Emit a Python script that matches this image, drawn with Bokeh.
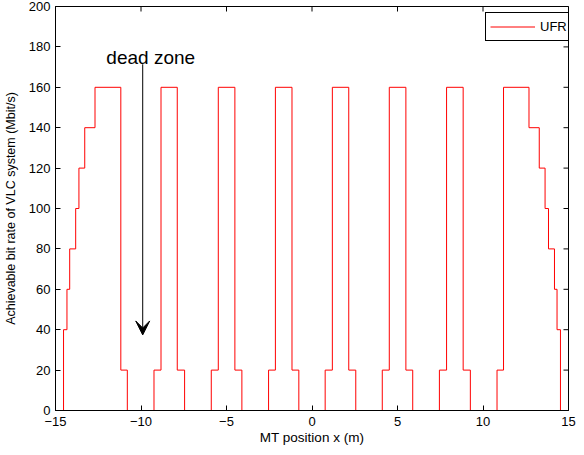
import math
from bokeh.plotting import figure
from bokeh.models import Range1d, Arrow, VeeHead, Legend, LegendItem, FixedTicker, ColumnDataSource
from bokeh.core.properties import value
from bokeh.embed import file_html
from bokeh.resources import INLINE

# ---- data ----
x_edges = [-15, -14.53, -14.33, -14.17, -13.82, -13.63, -13.29, -12.69, -11.18, -10.80,
           -9.24, -8.83, -7.88, -7.45, -5.89, -5.48, -4.51, -4.10, -2.54, -2.14,
           -1.17, -0.77, 0.77, 1.19, 2.15, 2.56, 4.11, 4.52, 5.49, 5.89,
           7.45, 7.87, 8.84, 9.26, 10.82, 11.20, 12.69, 13.29, 13.63, 13.83,
           14.18, 14.33, 14.53, 15]
rate = [0, 40, 60, 80, 100, 120, 140, 160, 20, 0,
        20, 160, 20, 0, 20, 160, 20, 0, 20, 160,
        20, 0, 20, 160, 20, 0, 20, 160, 20, 0,
        20, 160, 20, 0, 20, 160, 140, 120, 100, 80,
        60, 40, 0, 0]
series_name = "UFR"
x_ticks = [-15, -10, -5, 0, 5, 10, 15]
x_tick_labels = ["\u221215", "\u221210", "\u22125", "0", "5", "10", "15"]
y_ticks = [0, 20, 40, 60, 80, 100, 120, 140, 160, 180, 200]
x_min, x_max = -15, 15
y_min, y_max = 0, 200
x_label = "MT position x (m)"
y_label = "Achievable bit rate of VLC system (Mbit/s)"
note_text = ["dead zone"]
note_x = [-9.43]
note_y = [175]
arrow_x = -9.9
arrow_y_start = 171.4
arrow_y_end = 37.4

FONT = "Liberation Sans"

p = figure(width=576, height=447, output_backend="svg", toolbar_location=None,
           x_range=Range1d(x_min, x_max), y_range=Range1d(y_min, y_max),
           min_border_left=48, min_border_right=8, min_border_top=6, min_border_bottom=36)
p.xgrid.visible = False
p.ygrid.visible = False
p.outline_line_color = "black"
p.outline_line_alpha = 1.0
p.background_fill_color = "white"
p.border_fill_color = "white"

r = p.step(x_edges, rate, mode="after", line_color="#ff0000", line_width=1, line_join="miter")

# ticks on the top and right edges of the box (MATLAB style), clipped to frame
p.scatter(x=x_ticks, y=[y_max] * len(x_ticks), marker="dash", angle=math.pi / 2,
          size=10, line_color="black", line_width=1)
p.scatter(x=[x_max] * len(y_ticks), y=y_ticks, marker="dash",
          size=10, line_color="black", line_width=1)

xa = p.xaxis[0]
ya = p.yaxis[0]
xa.ticker = FixedTicker(ticks=x_ticks)
xa.major_label_overrides = {t: l for t, l in zip(x_ticks, x_tick_labels)}
ya.ticker = FixedTicker(ticks=y_ticks)
for ax in (xa, ya):
    ax.axis_line_color = "black"
    ax.major_tick_in = 5
    ax.major_tick_out = 0
    ax.minor_tick_in = 0
    ax.minor_tick_out = 0
    ax.major_tick_line_color = "black"
    ax.major_label_text_font = FONT
    ax.major_label_text_color = "black"
    ax.major_label_text_font_size = "13px"
    ax.axis_label_text_font = FONT
    ax.axis_label_text_font_style = "normal"
    ax.axis_label_text_color = "black"
xa.major_label_standoff = 6
ya.major_label_standoff = 5
xa.axis_label = x_label
ya.axis_label = y_label
xa.axis_label_text_font_size = "13.5px"
ya.axis_label_text_font_size = "12.5px"
xa.axis_label_standoff = 1
ya.axis_label_standoff = 8

p.add_layout(Arrow(end=VeeHead(size=14, fill_color="black", line_color="black", line_width=1),
                   x_start=arrow_x, y_start=arrow_y_start, x_end=arrow_x, y_end=arrow_y_end,
                   line_color="black", line_width=1))

src = ColumnDataSource(dict(x=note_x, y=note_y, t=note_text))
p.text(x="x", y="y", text="t", source=src, text_font=value(FONT), text_font_size="19px",
       text_align="center", text_baseline="alphabetic", text_color="black")

legend = Legend(items=[LegendItem(label=series_name, renderers=[r])],
                location=(430, 369), margin=0, padding=4, spacing=0,
                glyph_width=45, glyph_height=19, label_height=19, label_standoff=5,
                label_text_font=FONT, label_text_font_size="13px", label_text_color="black",
                border_line_color="black", border_line_width=1, border_line_alpha=1.0,
                background_fill_color="white", background_fill_alpha=1.0)
p.add_layout(legend, "center")

open("out.html", "w").write(file_html(p, INLINE))
